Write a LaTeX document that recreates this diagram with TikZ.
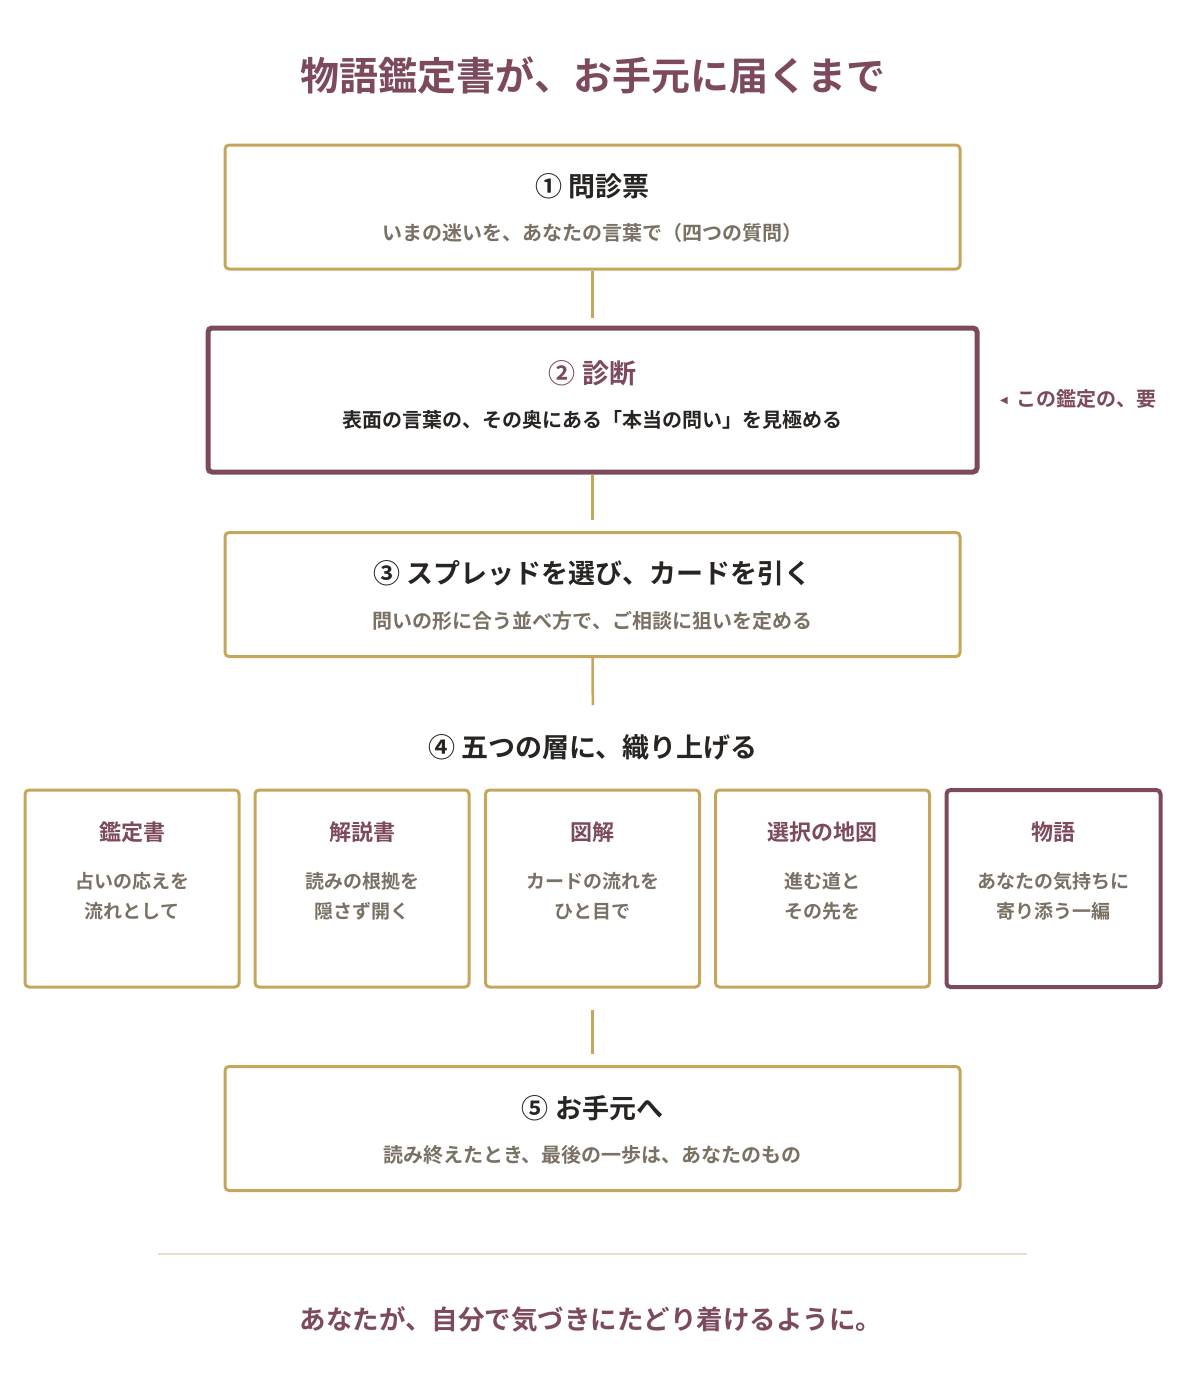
\documentclass[tikz,border=0pt]{standalone}
\usepackage{fontspec}
\setmainfont{Noto Sans CJK JP}[BoldFont={Noto Sans CJK JP Bold}]
\newfontfamily\symfont{DejaVu Sans}
\definecolor{gold}{RGB}{197,167,92}
\definecolor{plum}{RGB}{124,73,93}
\definecolor{ink}{RGB}{40,36,34}
\definecolor{stone}{RGB}{122,113,100}
\definecolor{rule}{RGB}{232,221,206}
\tikzset{
  stepbox/.style={draw=gold, line width=3pt, rounded corners=4pt, minimum width=735pt, minimum height=124pt, inner sep=0pt},
  keybox/.style={draw=plum, line width=5pt, rounded corners=4pt, minimum width=769pt, minimum height=144pt, inner sep=0pt},
  layerbox/.style={draw=gold, line width=3pt, rounded corners=4pt, minimum width=214pt, minimum height=197pt, inner sep=0pt},
  layerkey/.style={layerbox, draw=plum, line width=4pt},
  txt/.style={inner sep=0pt, anchor=base, font=\bfseries},
  ttl/.style={txt, text=ink, font=\fontsize{27}{30}\selectfont\bfseries},
  sub/.style={txt, text=stone, font=\fontsize{20}{24}\selectfont\bfseries},
  lttl/.style={txt, text=plum, font=\fontsize{22}{26}\selectfont\bfseries},
  lsub/.style={inner sep=0pt, text=stone, align=center, font=\fontsize{19}{30}\selectfont\bfseries},
  conn/.style={draw=gold, line width=2.5pt},
}
\begin{document}
\begin{tikzpicture}[x=1pt,y=-1pt]
\useasboundingbox (0,0) rectangle (1200,1390);
\node[txt, text=plum, font=\fontsize{39}{44}\selectfont\bfseries] (title) at (593,90.3) {物語鑑定書が、お手元に届くまで};

\node[stepbox] (b1) at (592.5,207) {};
\node[ttl] (b1t) at (592.5,196.2) {① 問診票};
\node[sub] (b1s) at (592.5,240) {いまの迷いを、あなたの言葉で（四つの質問）};

\node[keybox] (b2) at (592.5,400) {};
\node[ttl, text=plum] (b2t) at (592.5,383.2) {② 診断};
\node[sub, text=ink] (b2s) at (592.5,427) {表面の言葉の、その奥にある「本当の問い」を見極める};
\node[txt, text=plum, anchor=base west, font=\fontsize{20}{24}\selectfont\bfseries] (note) at (1000,406.5) {{\symfont\fontsize{10}{12}\selectfont\raisebox{3pt}{◀}}\hspace{9pt}この鑑定の、要};

\node[stepbox] (b3) at (592.5,594.5) {};
\node[ttl] (b3t) at (592.5,583.2) {③ スプレッドを選び、カードを引く};
\node[sub] (b3s) at (592.5,628) {問いの形に合う並べ方で、ご相談に狙いを定める};

\node[ttl, text height=24pt] (h4) at (593,757.2) {④ 五つの層に、織り上げる};

\node[layerbox] (s1) at (132,888.5) {};
\node[layerbox] (s2) at (362,888.5) {};
\node[layerbox] (s3) at (592.5,888.5) {};
\node[layerbox] (s4) at (822.5,888.5) {};
\node[layerkey] (s5) at (1053.5,888.5) {};
\node[lttl] (s1t) at (132,840.5) {鑑定書};
\node[lttl] (s2t) at (362,840.5) {解説書};
\node[lttl] (s3t) at (592.5,840.5) {図解};
\node[lttl] (s4t) at (822.5,840.5) {選択の地図};
\node[lttl] (s5t) at (1053.5,840.5) {物語};
\node[lsub] (s1s) at (132,896) {占いの応えを\\流れとして};
\node[lsub] (s2s) at (362,896) {読みの根拠を\\隠さず開く};
\node[lsub] (s3s) at (592.5,896) {カードの流れを\\ひと目で};
\node[lsub] (s4s) at (822.5,896) {進む道と\\その先を};
\node[lsub] (s5s) at (1053.5,896) {あなたの気持ちに\\寄り添う一編};

\node[stepbox] (b5) at (592.5,1128.5) {};
\node[ttl] (b5t) at (592.5,1118.2) {⑤ お手元へ};
\node[sub] (b5s) at (592.5,1162) {読み終えたとき、最後の一歩は、あなたのもの};

\draw[conn, shorten >=8pt] (b1.south) -- (b2.north);
\draw[conn, shorten >=11pt] (b2.south) -- (b3.north);
\draw[conn, shorten >=28pt] (b3.south) -- (h4.north);
\draw[conn, shorten <=21pt, shorten >=11pt] (s3.south) -- (b5.north);

\draw[rule, line width=2pt] (158,1254) -- (1027,1254);
\node[txt, text=plum, font=\fontsize{26.5}{30}\selectfont\bfseries] (foot) at (591,1329) {あなたが、自分で気づきにたどり着けるように。};
\end{tikzpicture}
\end{document}
